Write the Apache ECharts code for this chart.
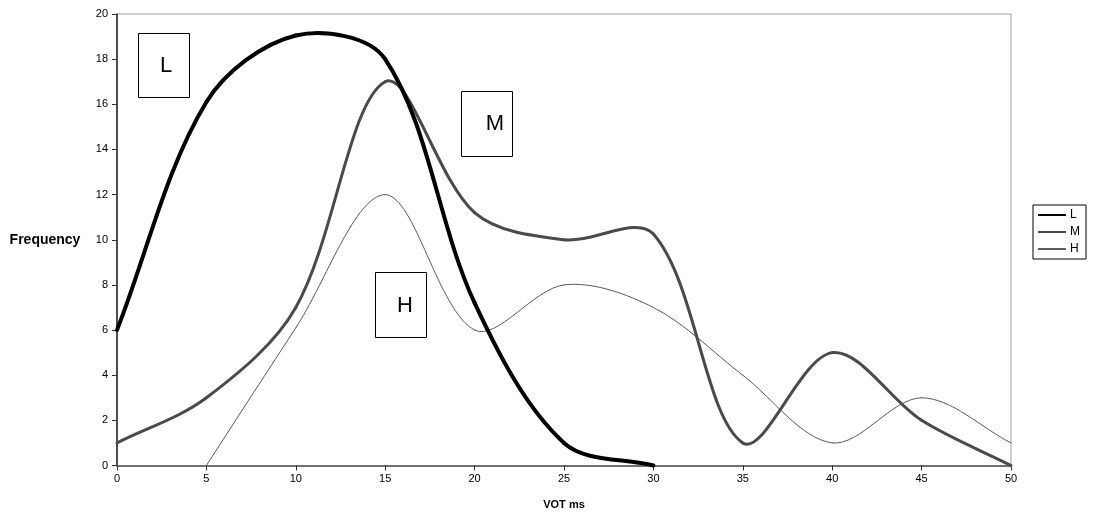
<!DOCTYPE html>
<html>
<head>
<meta charset="utf-8">
<script src="https://cdn.jsdelivr.net/npm/echarts@6/dist/echarts.min.js"></script>
<style>
html,body{margin:0;padding:0;background:#fff;}
#c{width:1094px;height:512px;}
</style>
</head>
<body>
<div id="c"></div>
<script>
const xValues = [0, 5, 10, 15, 20, 25, 30, 35, 40, 45, 50];
const seriesL = [6, 16.1, 19.05, 18, 7.2, 1, 0, null, null, null, null];
const seriesM = [1, 3, 7, 17, 11.2, 10, 10.25, 1, 5, 2, 0];
const seriesH = [null, 0, 6.1, 12, 6, 8, 7, 4, 1, 3, 1];
const xTicks = [0, 5, 10, 15, 20, 25, 30, 35, 40, 45, 50];
const yTicks = [0, 2, 4, 6, 8, 10, 12, 14, 16, 18, 20];

function pairs(vals) {
  const out = [];
  xValues.forEach((x, i) => { if (vals[i] !== null) out.push([x, vals[i]]); });
  return out;
}

const FONT = '"Liberation Sans", Arial, sans-serif';
const chart = echarts.init(document.getElementById('c'), null, {renderer: 'canvas'});

// Smoothed curve (spreadsheet-style) drawn through the data points via the axis scales
const SMOOTH = 1 / 3;
function curveSeries(name, data, color, width, z) {
  return {
    name: name + '_curve', type: 'custom', data: data, z: z, silent: true,
    encode: {x: 0, y: 1},
    renderItem: function (params, api) {
      const i = params.dataIndex, n = data.length;
      if (i >= n - 1) return null;
      const P = k => api.coord(data[Math.max(0, Math.min(n - 1, k))]);
      const dist = (a, b) => Math.hypot(a[0] - b[0], a[1] - b[1]);
      const p0 = P(i - 1), p1 = P(i), p2 = P(i + 1), p3 = P(i + 2);
      const l01 = dist(p0, p1), l12 = dist(p1, p2), l23 = dist(p2, p3);
      const r1 = (l01 + l12) > 0 ? l12 / (l01 + l12) : 0.5;
      const r2 = (l12 + l23) > 0 ? l12 / (l12 + l23) : 0.5;
      const c1 = [p1[0] + (p2[0] - p0[0]) * SMOOTH * r1, p1[1] + (p2[1] - p0[1]) * SMOOTH * r1];
      const c2 = [p2[0] - (p3[0] - p1[0]) * SMOOTH * r2, p2[1] - (p3[1] - p1[1]) * SMOOTH * r2];
      return {
        type: 'bezierCurve',
        shape: {x1: p1[0], y1: p1[1], x2: p2[0], y2: p2[1], cpx1: c1[0], cpy1: c1[1], cpx2: c2[0], cpy2: c2[1]},
        style: {stroke: color, lineWidth: width, fill: null, lineCap: 'round', lineJoin: 'round'}
      };
    }
  };
}

function box(x, y, w, h, label, tx, ty) {
  return [
    {type: 'rect', shape: {x: x, y: y, width: w, height: h}, style: {fill: '#fff', stroke: '#000', lineWidth: 1}, z: 100},
    {type: 'text', x: tx, y: ty, style: {text: label, font: '22px ' + FONT, fill: '#000', textAlign: 'center', textVerticalAlign: 'middle'}, z: 101}
  ];
}

const colL = '#000000', colM = '#4a4a4a', colH = '#5c5c5c';

chart.setOption({
  animation: false,
  backgroundColor: '#fff',
  grid: {left: 117, right: 83, top: 14, bottom: 46.5, show: true, borderColor: '#a0a0a0', borderWidth: 1,
    containLabel: false, outerBoundsMode: 'none'},
  xAxis: {
    type: 'value', min: 0, max: 50, interval: 5,
    name: 'VOT ms', nameLocation: 'middle', nameGap: 34,
    nameTextStyle: {fontFamily: FONT, fontSize: 11, fontWeight: 'bold', color: '#000'},
    axisLine: {show: true, lineStyle: {color: '#707070', width: 2}},
    axisTick: {show: true, length: 5, lineStyle: {color: '#333'}},
    axisLabel: {fontFamily: FONT, fontSize: 11, color: '#000', margin: 8,
      formatter: v => xTicks.indexOf(v) >= 0 ? String(v) : ''},
    splitLine: {show: false}
  },
  yAxis: {
    type: 'value', min: 0, max: 20, interval: 2,
    name: 'Frequency', nameLocation: 'middle', nameRotate: 0, nameGap: 72,
    nameTextStyle: {fontFamily: FONT, fontSize: 14, fontWeight: 'bold', color: '#000', align: 'center'},
    axisLine: {show: true, lineStyle: {color: '#222', width: 1.5}},
    axisTick: {show: true, length: 5, lineStyle: {color: '#333'}},
    axisLabel: {fontFamily: FONT, fontSize: 11, color: '#000', margin: 9,
      formatter: v => yTicks.indexOf(v) >= 0 ? String(v) : ''},
    splitLine: {show: false}
  },
  legend: {
    orient: 'vertical', left: 1033, top: 205,
    borderColor: '#000', borderWidth: 1, padding: [4, 6, 4, 4],
    itemWidth: 28, itemHeight: 11, itemGap: 5,
    itemStyle: {opacity: 0},
    textStyle: {fontFamily: FONT, fontSize: 12, color: '#000', padding: [0, 0, 0, -1]},
    data: ['L', 'M', 'H']
  },
  series: [
    {name: 'L', type: 'line', data: [], symbol: 'none', lineStyle: {color: colL, width: 4}, itemStyle: {color: colL}},
    {name: 'M', type: 'line', data: [], symbol: 'none', lineStyle: {color: colM, width: 3}, itemStyle: {color: colM}},
    {name: 'H', type: 'line', data: [], symbol: 'none', lineStyle: {color: colH, width: 1}, itemStyle: {color: colH}},
    curveSeries('H', pairs(seriesH), colH, 1, 1),
    curveSeries('M', pairs(seriesM), colM, 3, 2),
    curveSeries('L', pairs(seriesL), colL, 4, 3)
  ],
  graphic: [].concat(
    box(138.5, 33.5, 51, 64, 'L', 166, 66),
    box(461.5, 91.5, 51, 65, 'M', 495, 124),
    box(375.5, 272.5, 51, 65, 'H', 405, 306)
  )
});
</script>
</body>
</html>
